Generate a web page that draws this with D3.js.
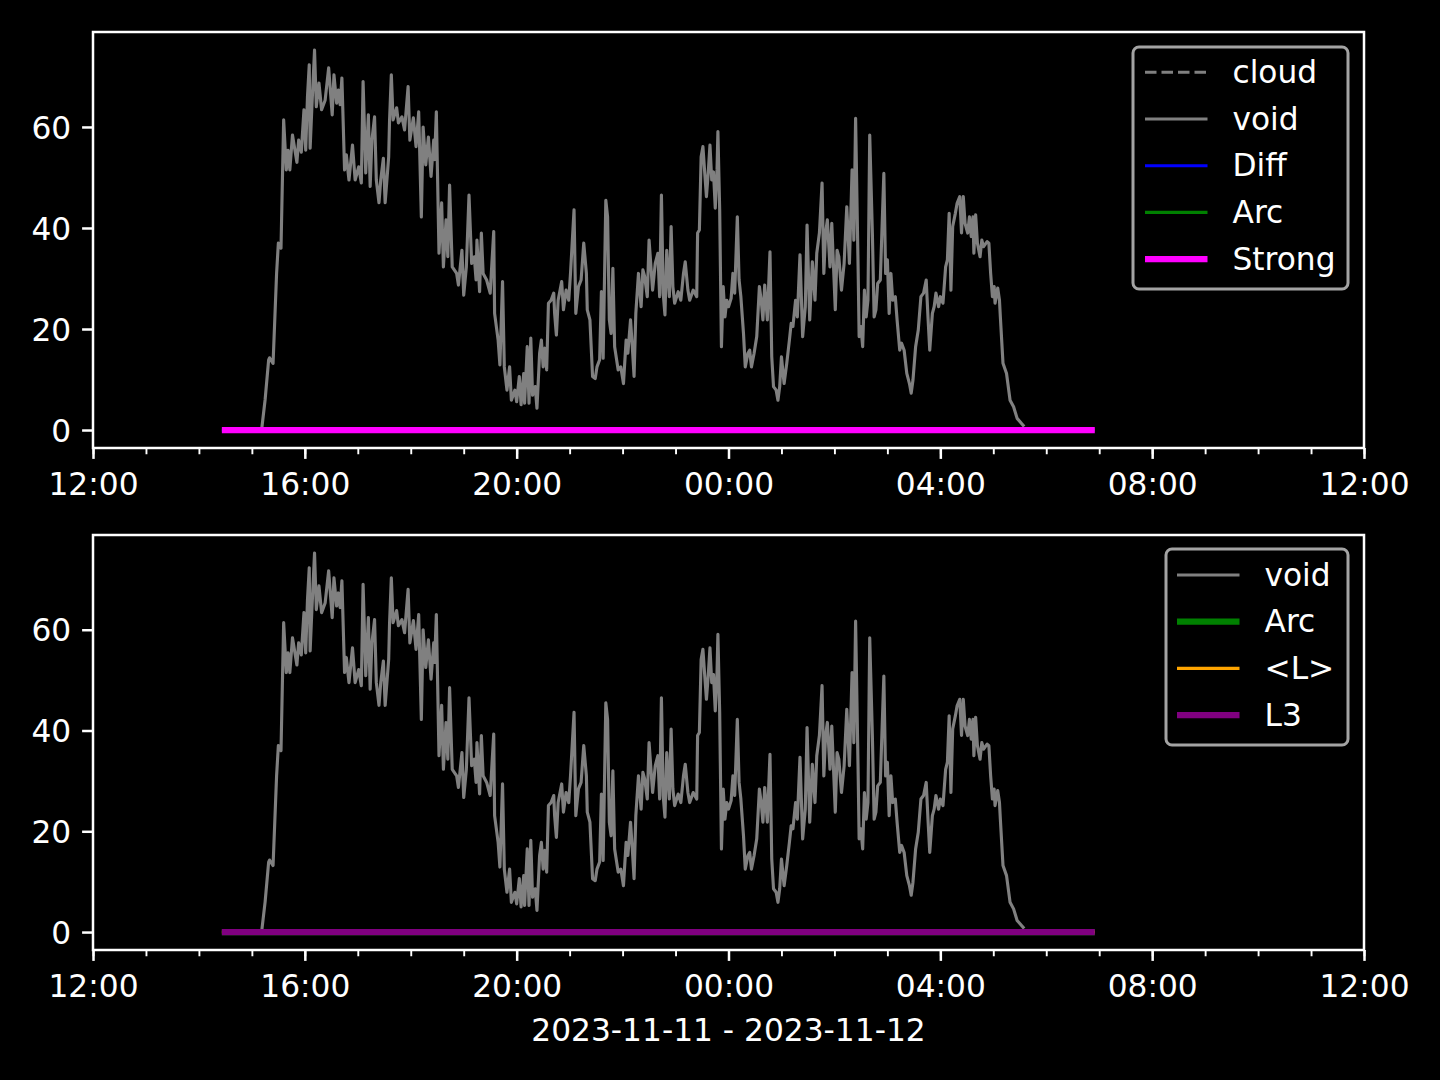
<!DOCTYPE html>
<html><head><meta charset="utf-8">
<script src="https://cdn.jsdelivr.net/npm/d3@7"></script>
<style>html,body{margin:0;background:#000;}svg{display:block}</style>
</head><body>
<script>
// ---- data (minutes after 2023-11-11 12:00) ----
const voidMinutes = [191,195,199,200,204,208,210,213,216,219,221,223,226,231,233,236,239,241,243,245,246,248,251,253,256,259,263,267,271,273,276,278,280,282,285,287,290,294,297,301,304,306,309,312,314,316,319,321,324,326,329,331,335,336,338,340,344,346,350,353,357,359,363,366,369,372,374,377,380,383,386,387,389,392,395,397,400,402,404,407,412,414,418,420,423,426,429,432,434,435,438,440,442,446,450,454,455,459,461,464,466,469,472,474,478,480,483,485,488,489,492,494,496,498,501,503,506,508,510,512,514,516,519,522,523,525,527,531,533,536,539,541,545,547,550,553,556,559,560,563,566,569,571,574,576,578,581,583,585,587,589,591,595,598,601,604,606,609,611,613,615,618,621,623,625,628,630,634,637,640,642,644,646,648,650,653,655,657,659,663,666,669,671,674,676,680,684,685,687,689,691,693,695,697,699,701,703,705,707,708,710,712,714,716,718,720,723,725,727,730,732,734,737,739,742,744,746,749,752,755,757,759,761,764,767,769,771,774,776,778,780,783,786,789,791,793,796,798,801,804,807,809,812,815,818,820,823,826,828,830,832,835,837,839,841,843,845,848,851,854,857,860,862,864,867,868,870,872,874,876,878,880,883,885,887,889,892,894,896,898,900,902,904,906,909,911,914,916,919,922,925,927,929,932,935,938,941,944,946,948,951,953,955,958,960,963,966,968,970,972,974,977,979,982,984,986,988,991,993,995,997,998,1000,1002,1005,1007,1009,1013,1015,1017,1019,1021,1022,1025,1027,1028,1031,1035,1039,1043,1047,1052,1055];
const voidValues = [0,6,13.9,14.3,13.2,31,37,36,61.4,51.5,55.4,51.5,58.4,53,57.4,55,63.4,55.4,66,72.3,55.8,64,75.2,64,68.7,63.4,65.3,71.7,62.4,70.3,64.7,67.3,64.4,69.7,51.5,54.5,49.5,56.4,49.5,52.1,48.9,69,50.9,62.4,48.2,57.4,62,49.5,45,49.5,53.8,45,54.1,61.4,70.3,61.4,63.8,60.8,62,59.4,68,57.4,61.8,56.1,63,42.2,60,52.5,58,50.2,57.4,53.5,63,35,45,32.3,41.6,34.3,48.5,32.3,31,28.7,35.6,26.7,32.3,46.5,33,34.3,29.7,37.6,27.4,39,31,29.7,27.1,39.3,23.1,17.8,12.9,29.4,12.5,7.9,12.5,5.9,7.9,5.6,10.6,5,11.2,5.3,16.5,5.3,18.2,6.9,8.6,4.3,15.2,17.8,12.5,16.2,11.9,25.1,25.7,27.1,23.1,18.8,25.7,29.4,23.8,27.7,25.7,31,43.6,23.1,28.4,29.7,37,31,23.8,21.8,10.6,10.2,12.5,13.9,27.4,14.2,45.5,42.2,21.8,19.1,32,16.5,11.9,12.5,9.2,17.8,15.2,21.8,16.5,10.6,23.1,31,24.4,31.7,30.4,26.4,37.6,27.7,33,35,26.4,46.5,27.1,22.8,35.6,26.4,40.3,28.4,25.1,27.4,25.7,31,33.3,27.7,25.7,27.7,26.4,39,39.6,54.1,56.1,51.1,46.2,50.8,56.4,49.5,51.1,43.9,51.5,59.1,43.6,16.5,28.4,22.4,25.7,24.4,26.1,31,27.1,42.2,29.7,26.4,19.1,12.5,15.2,15.8,12.5,15.2,18.5,28.4,25.7,21.8,28.7,21.8,35.3,14.5,8.6,7.9,5.9,8.6,14.5,9.2,13.2,17.8,21.1,20.5,25.7,22.4,34.7,18.5,24.4,40.6,21.8,33.3,25.7,35,39,48.9,31,39,41.6,32.3,40.9,32.3,23.8,35.6,34.3,27.7,33,44.2,33,51.5,37.6,61.7,30.4,18.5,20.5,16.5,27.7,22.4,25.7,58.4,39,22.4,23.8,29,29.7,40.3,50.8,31,33.7,23.1,31,25.7,26.4,21.8,15.8,17.2,15.8,11.2,9.2,7.3,9.9,16.5,19.8,26.4,27.1,29.7,22.4,15.8,23.1,24.4,27.1,24.4,26.4,25.1,32.3,33.7,42.9,27.7,40.3,42.9,44.9,46.2,39,46.2,40.9,39,42.2,38.3,42.2,35,42.6,37,34.3,37.6,36.3,37.3,37,31,26.4,28.4,25.1,28.1,25.7,22.4,13.2,11.2,5.9,4.6,2.3,1.3,0.7];
const flatMinutes = [146, 1135];
const strongValues = [0, 0];
const diffValues = [0, 0];
const arcValues = [0, 0];
const lMeanValues = [0, 0];
const l3Values = [0, 0];
const cloudMinutes = [];
const cloudValues = [];
const yTickValues = [0, 20, 40, 60];
const topLegend = ["cloud", "void", "Diff", "Arc", "Strong"];
const bottomLegend = ["void", "Arc", "<L>", "L3"];
const xLabel = "2023-11-11 - 2023-11-12";

// ---- setup ----
const W = 1440, H = 1080;
const FONT = "'DejaVu Sans', sans-serif";
const FS = 31.25;
const base = new Date(2023, 10, 11, 12, 0);
const toDate = m => new Date(base.getTime() + m * 60000);
const zip = (ms, vs) => ms.map((m, i) => ({t: toDate(m), v: vs[i]}));

const svg = d3.select("body").append("svg").attr("width", W).attr("height", H)
  .style("background", "#000");

const x = d3.scaleTime().domain([toDate(0), toDate(1440)]).range([93, 1364]);

const styles = {
  cloud: {color: "#808080", w: 3.125, dash: "11.5,5"},
  void: {color: "#808080", w: 3.125},
  Diff: {color: "#0000ff", w: 3.125},
  ArcThin: {color: "#008000", w: 3.125},
  Strong: {color: "#ff00ff", w: 6.25},
  ArcThick: {color: "#008000", w: 6.25},
  L: {color: "#ffa500", w: 3.125},
  L3: {color: "#800080", w: 6.25}
};

function panel(top, bottom, series, legend) {
  const y = d3.scaleLinear().domain([-3.56, 78.8]).range([bottom, top]);
  const g = svg.append("g");
  const line = d3.line().x(d => x(d.t)).y(d => y(d.v));
  series.forEach(s => {
    if (!s.data.length) return;
    g.append("path").datum(s.data).attr("d", line)
      .attr("fill", "none").attr("stroke", s.st.color).attr("stroke-width", s.st.w)
      .attr("stroke-linejoin", "round").attr("stroke-linecap", "butt")
      .attr("stroke-dasharray", s.st.dash || null);
  });
  // spines
  g.append("rect").attr("x", 93).attr("y", top).attr("width", 1364 - 93).attr("height", bottom - top)
    .attr("fill", "none").attr("stroke", "#fff").attr("stroke-width", 2.5);
  // x axis
  const xa = d3.axisBottom(x).ticks(d3.timeHour.every(4)).tickFormat(d3.timeFormat("%H:%M"))
    .tickSize(10.9).tickPadding(10.9);
  const xg = g.append("g").attr("transform", `translate(0,${bottom})`).call(xa);
  const xm = d3.axisBottom(x).ticks(d3.timeHour.every(1)).tickFormat("").tickSize(6.25);
  const xmg = g.append("g").attr("transform", `translate(0,${bottom})`).call(xm);
  xmg.selectAll("line").attr("stroke", "#fff").attr("stroke-width", 1.9);
  // y axis
  const ya = d3.axisLeft(y).tickValues(yTickValues).tickSize(10.9).tickPadding(10.9);
  const yg = g.append("g").attr("transform", `translate(93,0)`).call(ya);
  [xg, yg, xmg].forEach(a => {
    a.select(".domain").remove();
    a.selectAll(".tick line").attr("stroke", "#fff").attr("stroke-width", 2.5);
    a.selectAll("text").attr("fill", "#fff").style("font-family", FONT).style("font-size", FS + "px");
  });
  xmg.selectAll(".tick line").attr("stroke-width", 1.9);
  xg.selectAll("text").attr("dy", null).attr("y", 47 - 0).attr("dominant-baseline", "auto");
  yg.selectAll("text").attr("dy", "0.36em");
  // legend
  const L = legend;
  const lg = g.append("g");
  lg.append("rect").attr("x", L.x0).attr("y", L.y0).attr("width", L.x1 - L.x0).attr("height", L.y1 - L.y0)
    .attr("rx", 6).attr("ry", 6).attr("fill", "#000").attr("fill-opacity", 0.8)
    .attr("stroke", "#a3a3a3").attr("stroke-width", 3);
  L.items.forEach((it, i) => {
    const yy = L.firstY + i * 46.7;
    lg.append("line").attr("x1", L.hx).attr("x2", L.hx + 62.5).attr("y1", yy).attr("y2", yy)
      .attr("stroke", it.st.color).attr("stroke-width", it.st.w).attr("stroke-dasharray", it.st.dash || null);
    lg.append("text").attr("x", L.hx + 62.5 + 25).attr("y", yy + 10.5).text(it.label)
      .attr("fill", "#fff").style("font-family", FONT).style("font-size", FS + "px");
  });
  return y;
}

const voidData = zip(voidMinutes, voidValues);

panel(32, 448, [
  {data: zip(cloudMinutes, cloudValues), st: styles.cloud},
  {data: voidData, st: styles.void},
  {data: zip(flatMinutes, diffValues), st: styles.Diff},
  {data: zip(flatMinutes, arcValues), st: styles.ArcThin},
  {data: zip(flatMinutes, strongValues), st: styles.Strong}
], {x0: 1133, x1: 1348, y0: 47, y1: 289, hx: 1145, firstY: 72.3,
  items: [
    {label: topLegend[0], st: styles.cloud},
    {label: topLegend[1], st: styles.void},
    {label: topLegend[2], st: styles.Diff},
    {label: topLegend[3], st: styles.ArcThin},
    {label: topLegend[4], st: styles.Strong}
  ]});

panel(535, 950, [
  {data: voidData, st: styles.void},
  {data: zip(flatMinutes, arcValues), st: styles.ArcThick},
  {data: zip(flatMinutes, lMeanValues), st: styles.L},
  {data: zip(flatMinutes, l3Values), st: styles.L3}
], {x0: 1166, x1: 1348, y0: 549, y1: 745, hx: 1177, firstY: 575,
  items: [
    {label: bottomLegend[0], st: styles.void},
    {label: bottomLegend[1], st: styles.ArcThick},
    {label: bottomLegend[2], st: styles.L},
    {label: bottomLegend[3], st: styles.L3}
  ]});

svg.append("text").attr("x", 728.5).attr("y", 1041).attr("text-anchor", "middle")
  .attr("fill", "#fff").style("font-family", FONT).style("font-size", FS + "px").text(xLabel);
</script>
</body></html>
